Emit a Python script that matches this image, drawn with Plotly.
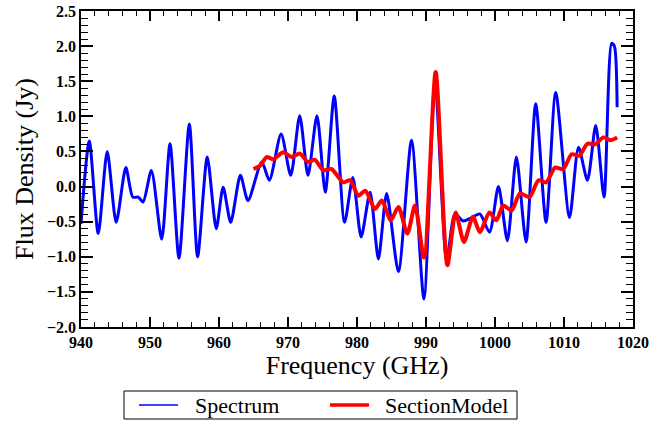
#!/usr/bin/env python3

import plotly.graph_objs as go

# spectrum (blue) at the turning points
spec_freq = [940.0, 941.2, 942.5, 943.8, 945.1, 946.5, 947.5, 948.3, 949.0, 950.2,
             951.7, 952.9, 954.2, 955.7, 956.9, 958.3, 959.6, 960.6, 961.7, 963.1,
             964.2, 966.2, 967.3, 969.0, 970.4, 971.7, 972.9, 974.2, 975.4, 976.7,
             978.2, 979.4, 980.6, 981.9, 983.1, 984.3, 986.0, 987.9, 989.7, 991.3,
             993.0, 994.2, 995.4, 996.5, 997.8, 999.2, 1000.5, 1001.8, 1003.1, 1004.5,
             1005.9, 1007.4, 1008.8, 1010.8, 1012.1, 1013.4, 1014.6, 1015.8, 1016.9, 1017.3,
             1017.7]
spec_flux = [-0.53, 0.65, -0.67, 0.50, -0.51, 0.27, -0.15, -0.15, -0.22, 0.23,
             -0.75, 0.61, -1.02, 0.89, -1.00, 0.42, -0.60, -0.01, -0.51, 0.16,
             -0.20, 0.35, 0.09, 0.75, 0.16, 1.01, 0.16, 1.01, -0.08, 1.29,
             -0.51, 0.13, -0.72, -0.08, -1.03, -0.10, -1.21, 0.66, -1.60, 1.50,
             -1.05, -0.39, -0.49, -0.45, -0.39, -0.65, 0.00, -0.77, 0.42, -0.79,
             1.18, -0.51, 1.34, -0.44, 0.56, 0.09, 0.87, -0.15, 2.04, 2.00,
             1.13]

# section model (red)
model_freq = [965.0, 966.0, 966.9, 967.9, 969.3, 970.5, 971.7, 972.9, 973.9, 975.1,
              976.3, 978.0, 979.0, 980.2, 981.2, 982.6, 983.6, 984.9, 986.0, 987.3,
              988.4, 989.7, 991.4, 993.1, 994.3, 995.5, 996.8, 997.8, 999.2, 1000.2,
              1001.2, 1002.4, 1003.6, 1005.0, 1006.3, 1007.4, 1008.7, 1009.9, 1011.1, 1012.2,
              1013.4, 1014.5, 1015.7, 1016.7, 1017.7]
model_flux = [0.25, 0.30, 0.42, 0.39, 0.49, 0.42, 0.47, 0.35, 0.38, 0.23,
              0.25, 0.06, 0.09, -0.13, -0.06, -0.32, -0.20, -0.48, -0.29, -0.67,
              -0.27, -1.01, 1.63, -1.12, -0.37, -0.79, -0.43, -0.65, -0.37, -0.48,
              -0.27, -0.34, -0.10, -0.15, 0.09, 0.06, 0.27, 0.25, 0.46, 0.44,
              0.61, 0.60, 0.70, 0.66, 0.70]

series_names = ['Spectrum', 'SectionModel']
series_colors = ['#0000ff', '#ff0000']

FONT = 'Liberation Serif'
W, H = 670, 422
L, R, T, B = 81, 37, 11, 95


# legend box sits below the plot; helpers turn pixel spots into paper coords
def px(x):
    return (x - L) / (W - L - R)


def py(y):
    return (H - B - y) / (H - T - B)


traces = [
    go.Scatter(x=spec_freq, y=spec_flux, mode='lines', name=series_names[0], showlegend=False,
               line=dict(color=series_colors[0], width=3, shape='spline', smoothing=0.7)),
    go.Scatter(x=model_freq, y=model_flux, mode='lines', name=series_names[1], showlegend=False,
               line=dict(color=series_colors[1], width=4, shape='spline', smoothing=0.7)),
]

shapes = [dict(type='rect', xref='paper', yref='paper', x0=px(124), x1=px(517), y0=py(391), y1=py(419),
               line=dict(color='black', width=1), fillcolor='white')]
annotations = []
for name, color, lx, lw, tx in zip(series_names, series_colors, [139, 330], [1.5, 3.5], [193, 383]):
    shapes.append(dict(type='line', xref='paper', yref='paper', x0=px(lx), x1=px(lx + 39),
                       y0=py(405), y1=py(405), line=dict(color=color, width=lw)))
    annotations.append(dict(text=name, xref='paper', yref='paper', x=px(tx), y=py(405),
                            xanchor='left', yanchor='middle', showarrow=False,
                            font=dict(family=FONT, size=22, color='black')))

axis_common = dict(showgrid=False, zeroline=False, showline=True, linecolor='black', linewidth=1.5,
                   mirror='ticks', ticks='inside', tickwidth=1.5, tickcolor='black', automargin=False,
                   tickfont=dict(family=FONT, size=16, color='black', weight='bold'))

layout = go.Layout(
    width=W, height=H,
    margin=dict(l=L, r=R, t=T, b=B),
    paper_bgcolor='white', plot_bgcolor='white',
    showlegend=False,
    xaxis=dict(range=[940, 1020], dtick=10, ticklen=10,
               minor=dict(dtick=2, ticks='inside', ticklen=5, tickwidth=1, tickcolor='black'),
               title=dict(text='Frequency (GHz)', font=dict(family=FONT, size=26, color='black'), standoff=2),
               **axis_common),
    yaxis=dict(range=[-2.0, 2.5], dtick=0.5, tickformat='.1f', ticklen=12,
               minor=dict(dtick=0.1, ticks='inside', ticklen=7, tickwidth=1, tickcolor='black'),
               title=dict(text='Flux Density (Jy)', font=dict(family=FONT, size=26, color='black'), standoff=6),
               **axis_common),
    shapes=shapes,
    annotations=annotations,
)

fig = go.Figure(data=traces, layout=layout)
# drop the browser's default 8px body margin so the figure sits at the page corner
fig.write_html("out.html", config={'displayModeBar': False},
               post_script="document.body.style.margin='0';document.body.style.overflow='hidden';")
